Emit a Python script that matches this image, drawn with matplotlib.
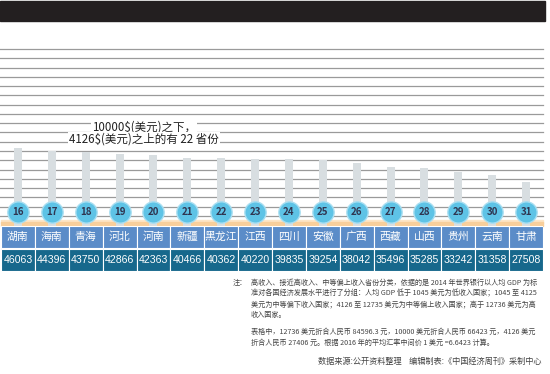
import matplotlib.pyplot as plt
from matplotlib.patches import Rectangle

plt.rcParams['font.family'] = ['Noto Sans CJK SC', 'DejaVu Sans']

ranks = list(range(16, 32))
provinces = ['湖南', '海南', '青海', '河北', '河南', '新疆', '黑龙江', '江西',
             '四川', '安徽', '广西', '西藏', '山西', '贵州', '云南', '甘肃']
gdp = [46063, 44396, 43750, 42866, 42363, 40466, 40362, 40220,
       39835, 39254, 38042, 35496, 35285, 33242, 31358, 27508]

note_lines = [
    '高收入、接近高收入、中等偏上收入省份分类，依据的是 2014 年世界银行以人均 GDP 为标',
    '准对各国经济发展水平进行了分组：人均 GDP 低于 1045 美元为低收入国家；1045 至 4125',
    '美元为中等偏下收入国家；4126 至 12735 美元为中等偏上收入国家；高于 12736 美元为高',
    '收入国家。',
]
note2_lines = [
    '表格中，12736 美元折合人民币 84596.3 元，10000 美元折合人民币 66423 元，4126 美元',
    '折合人民币 27406 元。根据 2016 年的平均汇率中间价 1 美元 =6.6423 计算。',
]
source = '数据来源:公开资料整理    编辑制表:《中国经济周刊》采制中心'

W, H = 550, 374
fig = plt.figure(figsize=(W / 100, H / 100), dpi=100)

# background layer in pixel coordinates
bg = fig.add_axes([0, 0, 1, 1])
bg.set_xlim(0, W)
bg.set_ylim(H, 0)
bg.axis('off')
bg.add_patch(Rectangle((0, 1), 545, 20, color='#231f20'))
for k in range(19):
    yy = 49 + k * 9.27
    bg.plot([0, 543], [yy, yy], color='#9a9a9a', lw=0.9)
bg.text(144, 127, '10000$(美元)之下，', ha='center', va='center', fontsize=8.3,
        color='#222222', bbox=dict(facecolor='white', edgecolor='none', pad=0.5))
bg.text(144, 139, '4126$(美元)之上的有 22 省份', ha='center', va='center', fontsize=8.3,
        color='#222222', bbox=dict(facecolor='white', edgecolor='none', pad=0.5))

# peach stripe above table
bg.add_patch(Rectangle((1, 219.5), 542, 3, color='#fde6c8'))
bg.add_patch(Rectangle((1, 222), 542, 4, color='#f8cf9c'))

# notes
note_kw = dict(fontsize=5.15, color='#444444', va='center')
bg.text(233, 283, '注：', **note_kw)
for i, line in enumerate(note_lines):
    bg.text(251, 283 + i * 10.7, line, **note_kw)
for i, line in enumerate(note2_lines):
    bg.text(251, 332 + i * 10.7, line, **note_kw)
bg.text(541, 361, source, fontsize=5.9, color='#444444', va='center', ha='right')

# main chart axes: value 0 sits at pixel y 232.4, 49px at top
x = list(range(len(gdp)))
y0, y1 = 232.4, 49
ax = fig.add_axes([1 / W, 1 - y0 / H, 542 / W, (y0 - y1) / H])
ax.set_xlim(-0.5, 15.5)
ax.set_ylim(0, (y0 - y1) / 0.001832)
ax.axis('off')
ax.patch.set_alpha(0)
ax.bar(x, gdp, width=0.236, color='#d8dee1', zorder=2)
circle_y = (y0 - 212) / 0.001832
ax.scatter(x, [circle_y] * len(x), s=235, color='#5ec3e6', edgecolor='#a8def1',
           linewidth=1, zorder=3)
for xi, r in zip(x, ranks):
    ax.text(xi, circle_y, str(r), ha='center', va='center', fontsize=7,
            fontweight='bold', color='#2f3550', zorder=4)

# table rows
tb = fig.add_axes([1 / W, 1 - 271 / H, 542 / W, 45 / H])
tb.set_xlim(-0.5, 15.5)
tb.set_ylim(0, 45)
tb.axis('off')
tb.bar(x, 22, width=1, bottom=23, color='#5b8cc8', edgecolor='white', linewidth=0.8)
tb.bar(x, 22.5, width=1, bottom=0, color='#17688c', edgecolor='white', linewidth=0.8)
for xi, name, v in zip(x, provinces, gdp):
    tb.text(xi, 34, name, ha='center', va='center', fontsize=7.8, color='white')
    tb.text(xi, 11.3, str(v), ha='center', va='center', fontsize=7.6, color='white',
            family=['Liberation Sans', 'DejaVu Sans'])

fig.savefig('out.png', dpi=100)
